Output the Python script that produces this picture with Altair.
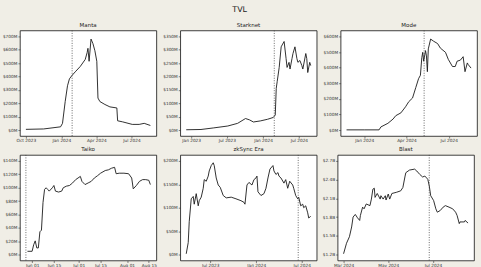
import altair as alt
import pandas as pd

# ---------------- data ----------------
manta_dates = ["2023-10-01", "2023-11-16", "2023-12-30", "2024-01-04", "2024-01-11", "2024-01-17",
               "2024-01-22", "2024-01-29", "2024-02-06", "2024-02-19", "2024-03-03", "2024-03-08",
               "2024-03-10", "2024-03-13", "2024-03-18", "2024-03-23", "2024-03-28", "2024-04-02",
               "2024-04-05", "2024-04-10", "2024-04-23", "2024-05-06", "2024-05-24", "2024-05-26",
               "2024-06-08", "2024-07-03", "2024-07-21", "2024-08-03", "2024-08-19"]
manta_tvl = [5, 8, 24, 50, 213, 331, 383, 409, 435, 475, 528, 580, 611, 514, 680, 646, 593, 514,
             239, 213, 191, 173, 165, 69, 61, 42, 42, 50, 34]

stark_dates = ["2022-12-07", "2023-02-20", "2023-04-26", "2023-07-06", "2023-08-25", "2023-10-04",
               "2023-10-24", "2023-11-13", "2023-12-18", "2024-01-23", "2024-02-22", "2024-03-03",
               "2024-03-08", "2024-03-13", "2024-03-23", "2024-04-02", "2024-04-07", "2024-04-17",
               "2024-04-27", "2024-05-02", "2024-05-12", "2024-05-17", "2024-05-27", "2024-06-01",
               "2024-06-11", "2024-06-21", "2024-06-26", "2024-07-06", "2024-07-16", "2024-07-21",
               "2024-08-05", "2024-08-10", "2024-08-15", "2024-08-25", "2024-08-30"]
stark_tvl = [1, 2, 8, 15, 25, 43, 38, 30, 34, 40, 47, 56, 156, 182, 234, 311, 318, 331, 267, 234,
             253, 228, 267, 286, 311, 267, 253, 260, 241, 228, 286, 267, 215, 253, 241]

mode_dates = ["2023-11-24", "2024-01-01", "2024-02-02", "2024-02-06", "2024-02-21", "2024-03-03",
              "2024-03-09", "2024-03-20", "2024-03-30", "2024-04-06", "2024-04-14", "2024-04-21",
              "2024-04-27", "2024-05-01", "2024-05-04", "2024-05-06", "2024-05-08", "2024-05-12",
              "2024-05-14", "2024-05-16", "2024-05-18", "2024-05-23", "2024-05-29", "2024-06-07",
              "2024-06-13", "2024-06-24", "2024-06-30", "2024-07-09", "2024-07-15", "2024-07-19",
              "2024-07-26", "2024-08-01", "2024-08-05", "2024-08-10", "2024-08-12", "2024-08-18"]
mode_tvl = [1, 1, 1, 20, 43, 70, 92, 110, 149, 182, 205, 272, 329, 351, 464, 498, 441, 509, 475,
            374, 520, 583, 570, 554, 525, 498, 453, 407, 407, 441, 448, 470, 374, 430, 419, 397]

taiko_dates = ["2024-05-29", "2024-06-01", "2024-06-02", "2024-06-03", "2024-06-04", "2024-06-05",
               "2024-06-06", "2024-06-07", "2024-06-08", "2024-06-09", "2024-06-10", "2024-06-11",
               "2024-06-12", "2024-06-14", "2024-06-15", "2024-06-16", "2024-06-18", "2024-06-20",
               "2024-06-21", "2024-06-23", "2024-06-25", "2024-06-27", "2024-06-29", "2024-07-02",
               "2024-07-03", "2024-07-05", "2024-07-07", "2024-07-09", "2024-07-11", "2024-07-13",
               "2024-07-15", "2024-07-18", "2024-07-20", "2024-07-22", "2024-07-24", "2024-07-25",
               "2024-07-27", "2024-07-30", "2024-08-02", "2024-08-04", "2024-08-05", "2024-08-07",
               "2024-08-09", "2024-08-11", "2024-08-13", "2024-08-15", "2024-08-16"]
taiko_tvl = [4.8, 4.8, 14.6, 20.4, 9.8, 9.8, 34, 36.4, 77.8, 97.4, 99.8, 97.4, 94.8, 99.8, 103.2,
             94.8, 93.4, 94.8, 99.8, 102.2, 103.2, 107, 112, 116.8, 109.4, 104.6, 107, 109.4, 114.4,
             117.8, 121.6, 125.6, 126.6, 129, 130.4, 120.8, 121.6, 121.6, 120.8, 114.4, 98.2, 103.2,
             109.4, 112, 112, 111, 104.6]

zk_dates = ["2023-03-27", "2023-04-04", "2023-04-08", "2023-04-16", "2023-04-24", "2023-04-28",
            "2023-05-06", "2023-05-14", "2023-05-18", "2023-05-26", "2023-06-03", "2023-06-07",
            "2023-06-15", "2023-06-23", "2023-06-27", "2023-07-05", "2023-07-13", "2023-07-17",
            "2023-07-25", "2023-08-02", "2023-08-10", "2023-08-22", "2023-09-03", "2023-09-23",
            "2023-10-12", "2023-11-01", "2023-11-13", "2023-11-17", "2023-11-25", "2023-12-03",
            "2023-12-15", "2023-12-23", "2023-12-31", "2024-01-04", "2024-01-08", "2024-01-20",
            "2024-02-01", "2024-02-09", "2024-02-17", "2024-02-25", "2024-03-08", "2024-03-12",
            "2024-03-20", "2024-03-28", "2024-04-01", "2024-04-09", "2024-04-21", "2024-04-28",
            "2024-05-06", "2024-05-14", "2024-05-26", "2024-05-30", "2024-06-07", "2024-06-15",
            "2024-06-19", "2024-06-27", "2024-07-05", "2024-07-09", "2024-07-17", "2024-07-25",
            "2024-07-29", "2024-08-06"]
zk_tvl = [1.5, 25.5, 70, 119, 124, 107.5, 130, 104, 115, 122.5, 141.5, 160, 156.5, 167.5, 178.5,
          190, 196, 190, 163.5, 148.5, 143.5, 126, 121, 122.5, 119, 115, 111.5, 107.5, 148.5, 154,
          148.5, 160, 163.5, 167.5, 134, 126, 130, 141.5, 163.5, 182.5, 190, 178.5, 171, 175, 167.5,
          163.5, 152.5, 160, 141.5, 156.5, 148.5, 141.5, 126, 119, 122.5, 104, 107.5, 100, 104, 89,
          78, 81.5]

blast_dates = ["2024-03-01", "2024-03-05", "2024-03-09", "2024-03-12", "2024-03-14", "2024-03-17",
               "2024-03-20", "2024-03-23", "2024-03-24", "2024-03-27", "2024-03-29", "2024-04-01",
               "2024-04-06", "2024-04-08", "2024-04-10", "2024-04-12", "2024-04-13", "2024-04-16",
               "2024-04-20", "2024-04-21", "2024-04-24", "2024-04-27", "2024-04-28", "2024-05-01",
               "2024-05-03", "2024-05-06", "2024-05-12", "2024-05-18", "2024-05-21", "2024-05-24",
               "2024-05-25", "2024-05-30", "2024-06-06", "2024-06-09", "2024-06-13", "2024-06-17",
               "2024-06-20", "2024-06-24", "2024-06-26", "2024-06-28", "2024-07-02", "2024-07-05",
               "2024-07-07", "2024-07-11", "2024-07-15", "2024-07-18", "2024-07-23", "2024-07-28",
               "2024-08-01", "2024-08-03", "2024-08-06", "2024-08-07", "2024-08-13", "2024-08-14",
               "2024-08-18"]
blast_tvl = [1212, 1380, 1485, 1641, 1800, 1842, 1788, 1746, 1827, 1959, 1932, 2010, 1983, 2088,
             2247, 2262, 2115, 2178, 2088, 2142, 2088, 2142, 2073, 2169, 2088, 2178, 2196, 2220,
             2274, 2457, 2511, 2553, 2568, 2538, 2484, 2442, 2457, 2406, 2301, 2142, 2064, 1932,
             1878, 1905, 1959, 1983, 1959, 1932, 1878, 1827, 1695, 1722, 1722, 1746, 1704]

titles = ["Manta", "Starknet", "Mode", "Taiko", "zkSync Era", "Blast"]
events = ["2024-01-29", "2024-02-27", "2024-05-09", "2024-05-28", "2024-06-17", "2024-06-26"]

manta_yticks = [0, 100, 200, 300, 400, 500, 600, 700]
stark_yticks = [0, 50, 100, 150, 200, 250, 300, 350]
mode_yticks = [0, 100, 200, 300, 400, 500, 600]
taiko_yticks = [0, 20, 40, 60, 80, 100, 120, 140]
zk_yticks = [0, 50, 100, 150, 200]
blast_yticks = [1200, 1500, 1800, 2100, 2400, 2700]

manta_xticks = ["2023-10-01", "2024-01-01", "2024-04-01", "2024-07-01"]
stark_xticks = ["2023-01-01", "2023-07-01", "2024-01-01", "2024-07-01"]
mode_xticks = ["2024-01-01", "2024-04-01", "2024-07-01"]
taiko_xticks = ["2024-06-01", "2024-06-15", "2024-07-01", "2024-07-15", "2024-08-01", "2024-08-15"]
zk_xticks = ["2023-07-01", "2024-01-01", "2024-07-01"]
blast_xticks = ["2024-03-01", "2024-05-01", "2024-07-01"]

FONT = "DejaVu Sans"
W, H = 137, 106

M_EXPR = "'$' + format(datum.value, ',') + 'M'"
B_EXPR = "'$' + format(datum.value / 1000, '.1f') + 'B'"


def to_ms(s):
    return int(pd.Timestamp(s, tz="UTC").value // 1_000_000)


def panel(title, dates, vals, yticks, lab_expr, xticks, xfmt, event):
    df = pd.DataFrame({"date": dates, "tvl": vals})
    x_enc = alt.X("date:T", scale=alt.Scale(type="utc", padding=6, nice=False),
                  axis=alt.Axis(values=[to_ms(t) for t in xticks],
                                labelExpr=f"utcFormat(datum.value, '{xfmt}')",
                                title=None, labelOverlap=False, labelBound=False,
                                labelFlush=False))
    line = alt.Chart(df).mark_line(color="#1a1a1a", strokeWidth=0.9).encode(
        x=x_enc,
        y=alt.Y("tvl:Q",
                scale=alt.Scale(domain=[yticks[0], yticks[-1]], padding=6, nice=False, zero=False),
                axis=alt.Axis(values=yticks, labelExpr=lab_expr, title=None, labelOverlap=False)),
    )
    ev = alt.Chart(pd.DataFrame({"date": [event]})).mark_rule(
        color="#444", strokeWidth=0.8, strokeDash=[1, 1.5]
    ).encode(x=x_enc)
    return alt.layer(line, ev).properties(
        width=W, height=H,
        title=alt.TitleParams(title, fontSize=5.5, font=FONT, fontWeight="normal", color="#222", offset=2),
    )


p1 = panel(titles[0], manta_dates, manta_tvl, manta_yticks, M_EXPR, manta_xticks, "%b %Y", events[0])
p2 = panel(titles[1], stark_dates, stark_tvl, stark_yticks, M_EXPR, stark_xticks, "%b %Y", events[1])
p3 = panel(titles[2], mode_dates, mode_tvl, mode_yticks, M_EXPR, mode_xticks, "%b %Y", events[2])
p4 = panel(titles[3], taiko_dates, taiko_tvl, taiko_yticks, M_EXPR, taiko_xticks, "%b %d", events[3])
p5 = panel(titles[4], zk_dates, zk_tvl, zk_yticks, M_EXPR, zk_xticks, "%b %Y", events[4])
p6 = panel(titles[5], blast_dates, blast_tvl, blast_yticks, B_EXPR, blast_xticks, "%b %Y", events[5])

row1 = alt.hconcat(p1, p2, p3, spacing=4)
row2 = alt.hconcat(p4, p5, p6, spacing=4)

chart = alt.vconcat(row1, row2, spacing=2).properties(
    title=alt.TitleParams("TVL", fontSize=8, font=FONT, fontWeight="normal", color="#222",
                          anchor="middle", offset=8),
    background="#f0eee6",
    padding={"left": 1, "top": 5, "right": 3, "bottom": 2},
).configure_view(
    stroke="#111", strokeWidth=0.8, fill="white"
).configure_axis(
    grid=False, domain=False, labelFont=FONT, labelFontSize=4.3, labelColor="#333",
    tickColor="#333", tickSize=2, tickWidth=0.6, labelPadding=1
).configure_concat(spacing=4)

chart.save("out.html", embed_options={"renderer": "svg", "actions": False})
